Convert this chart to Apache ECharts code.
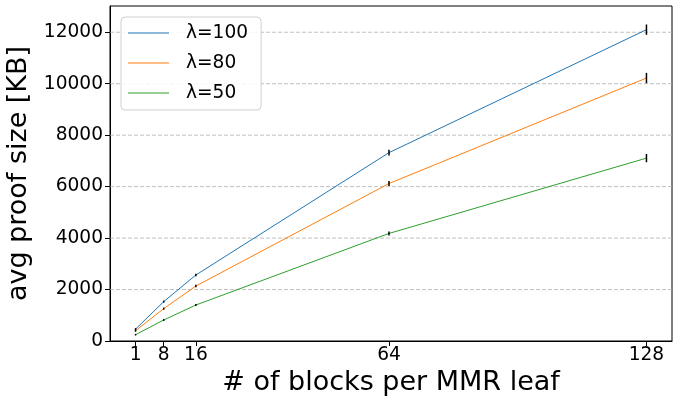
<!DOCTYPE html>
<html><head><meta charset="utf-8">
<script src="https://cdn.jsdelivr.net/npm/echarts@6/dist/echarts.min.js"></script>
<style>html,body{margin:0;padding:0;background:#fff}#c{width:683px;height:397px}</style>
</head><body><div id="c"></div>
<script>
const blocks = [1, 8, 16, 64, 128];
const lambda100 = [460, 1530, 2565, 7320, 12100];
const lambda80 = [400, 1258, 2136, 6120, 10220];
const lambda50 = [245, 815, 1398, 4180, 7107];
const err100 = [40, 40, 50, 110, 200];
const err80 = [40, 40, 50, 100, 200];
const err50 = [30, 35, 40, 80, 160];
const yTicks = [0, 2000, 4000, 6000, 8000, 10000, 12000];
const seriesNames = ['λ=100', 'λ=80', 'λ=50'];
const colors = ['#1f77b4', '#ff7f0e', '#2ca02c'];

const FONT = 'DejaVu Sans';
const chart = echarts.init(document.getElementById('c'), null, {renderer: 'canvas'});

const values = [lambda100, lambda80, lambda50];
const errs = [err100, err80, err50];

function errRender(params, api) {
  const x = api.value(0), y = api.value(1), e = api.value(2);
  const p1 = api.coord([x, y - e]), p2 = api.coord([x, y + e]);
  return {type: 'line', shape: {x1: p1[0], y1: p1[1], x2: p2[0], y2: p2[1]},
    style: {stroke: '#000', lineWidth: 1.5}};
}
function gridRender(params, api) {
  const v = api.value(1);
  if (v === 0) return null;
  const cs = params.coordSys;
  const p = api.coord([0, v]);
  return {type: 'line', shape: {x1: cs.x, y1: p[1], x2: cs.x + cs.width, y2: p[1]},
    style: {stroke: '#b0b0b0', lineWidth: 0.8, lineDash: [4, 2]}};
}

const series = [{
  type: 'custom', name: 'grid', silent: true, z: 1,
  renderItem: gridRender,
  data: yTicks.map(v => [0, v]),
  encode: {x: 0, y: 1}
}];
values.forEach((vals, i) => {
  series.push({
    type: 'line', name: seriesNames[i], z: 3,
    data: blocks.map((b, j) => [b, vals[j]]),
    symbol: 'none', showSymbol: false,
    lineStyle: {color: colors[i], width: 1},
    itemStyle: {color: colors[i]},
    animation: false
  });
});
values.forEach((vals, i) => {
  series.push({
    type: 'custom', name: 'err' + i, z: 4, silent: true,
    renderItem: errRender,
    data: blocks.map((b, j) => [b, vals[j], errs[i][j]]),
    encode: {x: 0, y: 1}
  });
});

chart.setOption({
  animation: false,
  backgroundColor: '#fff',
  textStyle: {fontFamily: FONT},
  grid: {left: 110, right: 11, top: 6, bottom: 56, show: true, borderColor: '#000', borderWidth: 1,
    backgroundColor: 'transparent', containLabel: false, outerBoundsMode: 'none'},
  legend: {
    data: seriesNames.map((n, i) => ({name: n, icon: 'rect', itemStyle: {color: colors[i]}})),
    orient: 'vertical', left: 121, top: 17,
    itemWidth: 41, itemHeight: 1.2, itemGap: 10,
    padding: [6, 13, 7, 7],
    backgroundColor: 'rgba(255,255,255,0.85)',
    borderColor: '#d0d0d0', borderWidth: 1, borderRadius: 4,
    textStyle: {fontFamily: FONT, fontSize: 18.6, color: '#000', lineHeight: 20, padding: [0, 0, 0, 12]}
  },
  xAxis: {
    type: 'value', min: -5.35, max: 134.35,
    name: '# of blocks per MMR leaf', nameLocation: 'middle', nameGap: 23,
    nameTextStyle: {fontFamily: FONT, fontSize: 27, color: '#000'},
    axisLine: {show: true, onZero: false, lineStyle: {color: '#000', width: 1}},
    axisTick: {show: true, length: 5, customValues: blocks, lineStyle: {color: '#000', width: 1}},
    axisLabel: {customValues: blocks, fontFamily: FONT, fontSize: 18.6, color: '#000', margin: 5,
      formatter: v => String(v)},
    splitLine: {show: false}
  },
  yAxis: {
    type: 'value', min: 0, max: 13020, interval: 2000,
    name: 'avg proof size [KB]', nameLocation: 'middle', nameGap: 60,
    nameTextStyle: {fontFamily: FONT, fontSize: 27, color: '#000'},
    axisLine: {show: true, onZero: false, lineStyle: {color: '#000', width: 1}},
    axisTick: {show: true, length: 5, customValues: yTicks, lineStyle: {color: '#000', width: 1}},
    axisLabel: {customValues: yTicks, fontFamily: FONT, fontSize: 18.6, color: '#000', margin: 7,
      formatter: v => String(v)},
    splitLine: {show: false}
  },
  series: series
});
</script>
</body></html>
